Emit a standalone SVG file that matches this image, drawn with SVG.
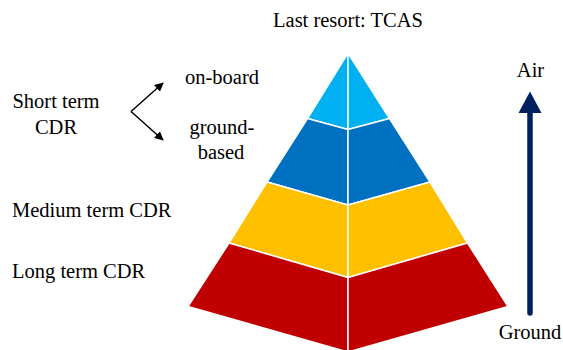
<svg xmlns="http://www.w3.org/2000/svg" width="563" height="350" viewBox="0 0 563 350">
<style>
.t{font-family:'Liberation Serif','Times New Roman','DejaVu Serif',serif;font-size:20.5px;fill:#000}
.seg{stroke:#fff;stroke-width:1.5;stroke-linejoin:miter}
.c{text-anchor:middle}
</style>
<defs>
<marker id="ah" viewBox="0 0 10 10" refX="9" refY="5" markerWidth="9" markerHeight="9" markerUnits="userSpaceOnUse" orient="auto">
<path d="M0,0 L10,5 L0,10 z" fill="#000"/>
</marker>
</defs>
<rect width="563" height="350" fill="#fff"/>
<g id="pyramid">
<g id="layer-tcas">
<polygon class="seg" fill="#00B0F0" points="348,53 307.5,118.5 348,129.5"/>
<polygon class="seg" fill="#00B0F0" points="348,53 389.5,118.5 348,129.5"/>
</g>
<g id="layer-short">
<polygon class="seg" fill="#0070C0" points="307.5,118.5 348,129.5 348,205 267,182"/>
<polygon class="seg" fill="#0070C0" points="389.5,118.5 348,129.5 348,205 430,182"/>
</g>
<g id="layer-medium">
<polygon class="seg" fill="#FFC000" points="267,182 348,205 348,277.5 229,243"/>
<polygon class="seg" fill="#FFC000" points="430,182 348,205 348,277.5 467.5,243"/>
</g>
<g id="layer-long">
<polygon class="seg" fill="#C00000" points="229,243 348,277.5 348,352 188,306.5"/>
<polygon class="seg" fill="#C00000" points="467.5,243 348,277.5 348,352 508,306.5"/>
</g>
</g>
<g id="labels" font-family="Liberation Serif, Times New Roman, DejaVu Serif, serif" font-size="20.5">
<text class="t c" x="348" y="27">Last resort: TCAS</text>
<text class="t c" x="56" y="108">Short term</text>
<text class="t c" x="56" y="134">CDR</text>
<text class="t c" x="222" y="84">on-board</text>
<text class="t c" x="222" y="134">ground-</text>
<text class="t c" x="221" y="159">based</text>
<text class="t" x="12" y="217">Medium term CDR</text>
<text class="t" x="12" y="278">Long term CDR</text>
<text class="t c" x="530.5" y="77">Air</text>
<text class="t c" x="530" y="339">Ground</text>
</g>
<g id="connectors">
<line x1="131" y1="111.5" x2="163" y2="83" stroke="#000" stroke-width="1.5" marker-end="url(#ah)"/>
<line x1="131" y1="111.5" x2="163" y2="140" stroke="#000" stroke-width="1.5" marker-end="url(#ah)"/>
<line x1="530" y1="313" x2="530" y2="110" stroke="#002060" stroke-width="5.5" stroke-linecap="round"/>
<polygon points="530,91.5 518.5,113 541.5,113" fill="#002060"/>
</g>
</svg>
